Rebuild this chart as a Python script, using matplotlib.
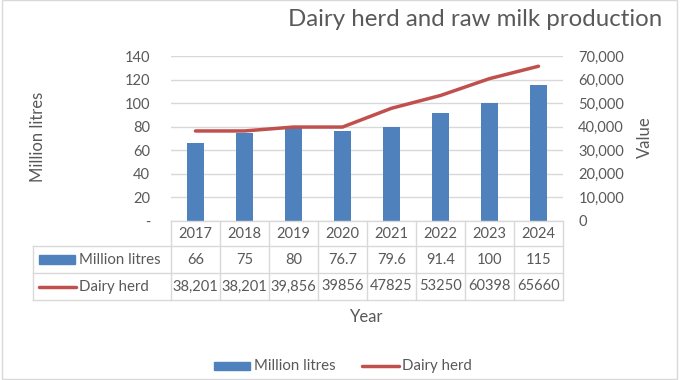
import matplotlib
matplotlib.use("Agg")
import matplotlib.pyplot as plt
from matplotlib.lines import Line2D
from matplotlib.patches import Rectangle
from matplotlib.transforms import blended_transform_factory
from matplotlib.ticker import FuncFormatter, MultipleLocator

plt.rcParams.update({"font.family": ["Lato", "DejaVu Sans"], "figure.dpi": 100})
BLUE, RED, GRID, TXT = "#4f81bd", "#c0504d", "#d9d9d9", "#595959"

years = ["2017", "2018", "2019", "2020", "2021", "2022", "2023", "2024"]
milk = [66, 75, 80, 76.7, 79.6, 91.4, 100, 115]
herd = [38201, 38201, 39856, 39856, 47825, 53250, 60398, 65660]
herd_labels = ["38,201", "38,201", "39,856", "39856", "47825", "53250", "60398", "65660"]

W, H = 680, 380
fx = lambda px: px / W
fy = lambda py: 1 - py / H

fig = plt.figure(figsize=(6.8, 3.8))
ax = fig.add_axes([fx(171), fy(221), fx(563) - fx(171), fy(56) - fy(221)])
ax2 = ax.twinx()
x = range(len(years))
ax.bar(x, milk, width=0.33, color=BLUE, zorder=2)
ax2.plot(x, herd, color=RED, lw=2.5, solid_capstyle="round", solid_joinstyle="round", zorder=3)
ax.set_xlim(-0.5, len(years) - 0.5)
ax.set_ylim(0, 140); ax2.set_ylim(0, 70000)
ax.yaxis.set_major_locator(MultipleLocator(20)); ax2.yaxis.set_major_locator(MultipleLocator(10000))
ax.yaxis.set_major_formatter(FuncFormatter(lambda v, p: "-" if v == 0 else f"{v:.0f}"))
ax2.yaxis.set_major_formatter(FuncFormatter(lambda v, p: f"{v:,.0f}"))
ax.grid(axis="y", color=GRID, lw=1.0, zorder=0); ax.set_axisbelow(True)
ax.set_xticks([])
ax.tick_params(axis="y", length=0, pad=15, labelsize=10.5, labelcolor=TXT)
ax2.tick_params(axis="y", length=0, pad=11, labelsize=10.5, labelcolor=TXT)
for a in (ax, ax2):
    for sp in a.spines.values(): sp.set_visible(False)

# data table under the plot
tr = blended_transform_factory(ax.transData, fig.transFigure)
rows = [fy(221), fy(246), fy(273), fy(300)]
n = len(years)
fig.add_artist(Line2D([-0.5, n - 0.5], [rows[0]] * 2, transform=tr, color=GRID, lw=1.0))
for r in rows[1:]:
    fig.add_artist(Line2D([fx(33), fx(171)], [r] * 2, transform=fig.transFigure, color=GRID, lw=1.0))
    fig.add_artist(Line2D([-0.5, n - 0.5], [r] * 2, transform=tr, color=GRID, lw=1.0))
for k in range(n + 1):
    fig.add_artist(Line2D([k - 0.5] * 2, [rows[0], rows[3]], transform=tr, color=GRID, lw=1.0))
fig.add_artist(Line2D([fx(33)] * 2, [rows[1], rows[3]], transform=fig.transFigure, color=GRID, lw=1.0))
for k in range(n):
    fig.text(k, (rows[0] + rows[1]) / 2, years[k], transform=tr, ha="center", va="center", fontsize=10.5, color=TXT)
    fig.text(k, (rows[1] + rows[2]) / 2, f"{milk[k]:g}", transform=tr, ha="center", va="center", fontsize=10.5, color=TXT)
    fig.text(k, (rows[2] + rows[3]) / 2, herd_labels[k], transform=tr, ha="center", va="center", fontsize=10.5, color=TXT)
fig.add_artist(Rectangle((fx(39), fy(264)), fx(75) - fx(39), fy(255) - fy(264), transform=fig.transFigure, color=BLUE))
fig.text(fx(79), (rows[1] + rows[2]) / 2, "Million litres", ha="left", va="center", fontsize=10.8, color=TXT)
fig.add_artist(Line2D([fx(39), fx(76)], [fy(287)] * 2, transform=fig.transFigure, color=RED, lw=2.5, solid_capstyle="round"))
fig.text(fx(79), (rows[2] + rows[3]) / 2, "Dairy herd", ha="left", va="center", fontsize=10.8, color=TXT)

# axis titles and chart title
fig.text(fx(38), fy(137), "Million litres", rotation=90, ha="center", va="center", fontsize=12, color=TXT)
fig.text(fx(645), fy(137), "Value", rotation=90, ha="center", va="center", fontsize=12, color=TXT)
fig.text(fx(367), fy(317), "Year", ha="center", va="center", fontsize=12, color=TXT)
fig.text(fx(475), fy(19), "Dairy herd and raw milk production", ha="center", va="center", fontsize=17.3, color=TXT)

# legend
fig.add_artist(Rectangle((fx(214), fy(370)), fx(250) - fx(214), fy(362) - fy(370), transform=fig.transFigure, color=BLUE))
fig.text(fx(254), fy(366), "Million litres", ha="left", va="center", fontsize=10.8, color=TXT)
fig.add_artist(Line2D([fx(362), fx(399)], [fy(366)] * 2, transform=fig.transFigure, color=RED, lw=2.5, solid_capstyle="round"))
fig.text(fx(402), fy(366), "Dairy herd", ha="left", va="center", fontsize=10.8, color=TXT)

fig.add_artist(Rectangle((fx(2), fy(379)), fx(677) - fx(2), fy(0) - fy(379), transform=fig.transFigure, fill=False, ec=GRID, lw=1.0))
fig.savefig("out.png", dpi=100)
